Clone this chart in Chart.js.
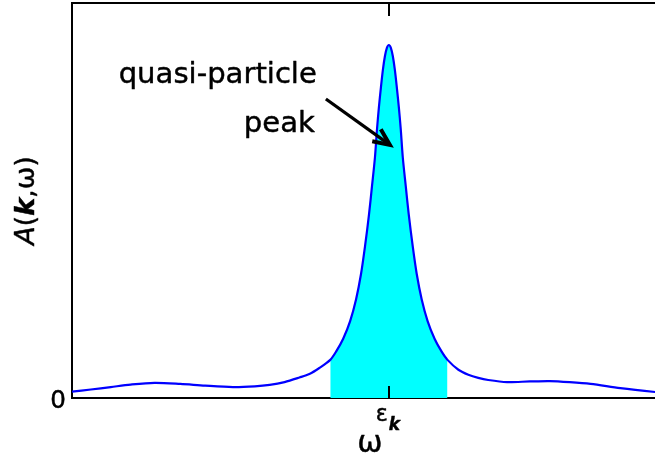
<!DOCTYPE html>
<html>
<head>
<meta charset="utf-8">
<script src="https://cdn.jsdelivr.net/npm/chart.js@4.4.1/dist/chart.umd.min.js"></script>
<style>
  html, body { margin: 0; padding: 0; width: 655px; height: 460px; overflow: hidden; background: #fff; }
  #wrap { position: absolute; left: 0; top: 0; width: 690px; height: 460px; }
</style>
</head>
<body>
<div id="wrap"><canvas id="c"></canvas></div>
<script>
// ---- data (ω relative to ε_k, A normalised to the peak) ----
const omega = [-3.19, -3.00, -2.80, -2.60, -2.36, -2.10, -1.85, -1.57, -1.35, -1.20, -1.05, -0.90, -0.80, -0.70,
  -0.59, -0.53, -0.46, -0.39, -0.33, -0.28, -0.24, -0.20, -0.17, -0.14, -0.12, -0.10, -0.08, -0.06, -0.04, -0.02,
  0, 0.02, 0.04, 0.06, 0.08, 0.10, 0.12, 0.14, 0.17, 0.20, 0.24, 0.28, 0.33, 0.39, 0.46, 0.53, 0.59,
  0.70, 0.80, 0.90, 1.00, 1.19, 1.42, 1.62, 1.82, 2.03, 2.33, 2.68, 2.81];
const spectral = [0.018, 0.024, 0.031, 0.038, 0.043, 0.040, 0.035, 0.031, 0.033, 0.037, 0.045, 0.058, 0.068, 0.085,
  0.108, 0.132, 0.168, 0.218, 0.280, 0.352, 0.430, 0.520, 0.600, 0.682, 0.760, 0.825, 0.880, 0.930, 0.968, 0.992,
  1.0, 0.992, 0.968, 0.930, 0.880, 0.825, 0.760, 0.682, 0.600, 0.520, 0.430, 0.352, 0.280, 0.218, 0.168, 0.132, 0.108,
  0.080, 0.066, 0.057, 0.051, 0.045, 0.047, 0.048, 0.045, 0.040, 0.028, 0.017, 0.014];
const shadeFrom = -0.59, shadeTo = 0.59;      // shaded quasi-particle region
const xRange = [-3.19, 2.81];
const yRange = [0, 1.119];
const xTickValues = [0];
const xTickMain = ['ε'];
const xTickSub = ['k'];
const yTickValues = [0];
const yTickLabels = ['0'];
const annotationLines = ['quasi-particle', 'peak'];
const annotationAnchor = [{x: -0.725, y: 0.892}, {x: -0.745, y: 0.754}];
const arrowTail = {x: -0.634, y: 0.847};
const arrowTip = {x: 0.01, y: 0.717};

const FONT = '"DejaVu Sans", "Liberation Sans", sans-serif';

const curve = omega.map((w, i) => ({x: w, y: spectral[i]}));
const shaded = curve.filter(p => p.x >= shadeFrom - 1e-9 && p.x <= shadeTo + 1e-9);

function txt(ctx, t, px, py) {
  ctx.fillText(t, px, py);
  ctx.strokeText(t, px, py);
}

const overlay = {
  id: 'overlay',
  afterDraw(chart) {
    const {ctx, chartArea: a, scales: {x, y}} = chart;
    ctx.save();
    // size calibration so that "quasi-particle" spans the same ink width as in the reference (≈196 px)
    ctx.font = '26px ' + FONT;
    const m = ctx.measureText(annotationLines[0]);
    const ink = (m.actualBoundingBoxRight + m.actualBoundingBoxLeft) || m.width;
    const f = Math.max(0.8, Math.min(1.3, 196 / ink));
    const fs = s => (s * f).toFixed(1) + 'px ';

    ctx.strokeStyle = '#000';
    ctx.fillStyle = '#000';
    // top frame line
    ctx.lineWidth = 2;
    ctx.beginPath(); ctx.moveTo(a.left - 1, a.top); ctx.lineTo(a.right, a.top); ctx.stroke();
    // inward ticks
    xTickValues.forEach(v => {
      const px = Math.round(x.getPixelForValue(v));
      ctx.beginPath();
      ctx.moveTo(px, a.bottom); ctx.lineTo(px, a.bottom - 12);
      ctx.moveTo(px, a.top); ctx.lineTo(px, a.top + 13);
      ctx.stroke();
    });
    ctx.lineWidth = 0.45;   // slight emboldening of the text like the reference rendering
    ctx.lineJoin = 'round';
    ctx.textBaseline = 'alphabetic';
    // x tick labels  ε_k
    xTickValues.forEach((v, i) => {
      const px = x.getPixelForValue(v);
      ctx.font = fs(20) + FONT;
      ctx.textAlign = 'right';
      txt(ctx, xTickMain[i], px - 1, a.bottom + 23);
      ctx.font = 'italic bold ' + fs(15) + FONT;
      ctx.textAlign = 'left';
      txt(ctx, xTickSub[i], px, a.bottom + 32);
    });
    // y tick labels
    yTickValues.forEach((v, i) => {
      const py = y.getPixelForValue(v);
      ctx.font = fs(22) + FONT;
      ctx.textAlign = 'right';
      txt(ctx, yTickLabels[i], a.left - 6, py + 10);
    });
    // x axis title ω
    ctx.font = fs(27) + FONT;
    ctx.textAlign = 'center';
    txt(ctx, 'ω', (a.left + a.right) / 2, a.bottom + 54);
    // y axis title A(k,ω)
    const parts = [
      ['A', 'italic ' + fs(24) + FONT], ['(', fs(24) + FONT], ['k', 'italic bold ' + fs(24) + FONT],
      [',', fs(24) + FONT], ['ω', fs(24) + FONT], [')', fs(24) + FONT]
    ];
    let total = 0;
    parts.forEach(p => { ctx.font = p[1]; p.w = ctx.measureText(p[0]).width; total += p.w; });
    ctx.save();
    ctx.translate(34, (a.top + a.bottom) / 2);
    ctx.rotate(-Math.PI / 2);
    ctx.textAlign = 'left';
    let cx = -total / 2;
    parts.forEach(p => { ctx.font = p[1]; txt(ctx, p[0], cx, 0); cx += p.w; });
    ctx.restore();
    // annotation
    ctx.font = fs(26) + FONT;
    ctx.textAlign = 'right';
    annotationLines.forEach((t, i) => {
      txt(ctx, t, x.getPixelForValue(annotationAnchor[i].x), y.getPixelForValue(annotationAnchor[i].y));
    });
    // arrow
    const tx = x.getPixelForValue(arrowTail.x), ty = y.getPixelForValue(arrowTail.y);
    const hx = x.getPixelForValue(arrowTip.x), hy = y.getPixelForValue(arrowTip.y);
    const ang = Math.atan2(hy - ty, hx - tx);
    ctx.lineWidth = 3.2;
    ctx.lineCap = 'butt';
    ctx.beginPath(); ctx.moveTo(tx, ty); ctx.lineTo(hx - 3 * Math.cos(ang), hy - 3 * Math.sin(ang)); ctx.stroke();
    const L = 18, spread = 0.42;
    ctx.lineWidth = 4;
    ctx.lineJoin = 'miter';
    ctx.beginPath();
    ctx.moveTo(hx - L * Math.cos(ang - spread), hy - L * Math.sin(ang - spread));
    ctx.lineTo(hx, hy);
    ctx.lineTo(hx - L * Math.cos(ang + spread), hy - L * Math.sin(ang + spread));
    ctx.stroke();
    ctx.restore();
  }
};

new Chart(document.getElementById('c'), {
  type: 'line',
  data: {
    datasets: [
      {
        data: curve, borderColor: '#0000ff', borderWidth: 2.2, pointRadius: 0,
        tension: 0.3, fill: false, order: 0
      },
      {
        data: shaded, borderWidth: 0, borderColor: 'rgba(0,0,0,0)', backgroundColor: '#00ffff',
        pointRadius: 0, tension: 0.3, fill: 'origin', order: 1
      }
    ]
  },
  options: {
    responsive: true,
    maintainAspectRatio: false,
    animation: false,
    events: [],
    layout: {padding: {top: 3, right: 22, left: 0, bottom: 0}},
    plugins: {legend: {display: false}, tooltip: {enabled: false}},
    scales: {
      x: {
        type: 'linear', min: xRange[0], max: xRange[1],
        grid: {display: false},
        border: {display: true, color: '#000', width: 2},
        ticks: {display: false},
        afterFit(s) { s.height = 62; }
      },
      y: {
        type: 'linear', min: yRange[0], max: yRange[1],
        grid: {display: false},
        border: {display: true, color: '#000', width: 2},
        ticks: {display: false},
        afterFit(s) { s.width = 72; }
      }
    }
  },
  plugins: [overlay]
});
</script>
</body>
</html>
